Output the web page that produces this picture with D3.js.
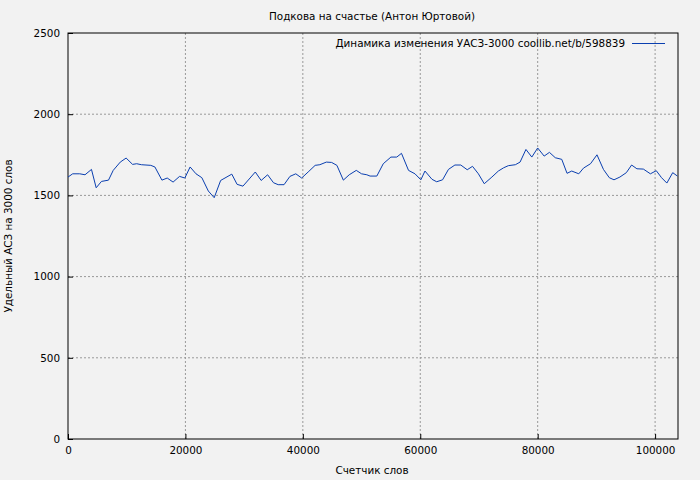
<!DOCTYPE html>
<html><head><meta charset="utf-8">
<script src="https://cdn.jsdelivr.net/npm/d3@7"></script>
<style>body{margin:0;background:#f2f2f2}svg{font-family:"DejaVu Sans",sans-serif;font-size:10.4px}</style>
</head><body><svg id="c" width="700" height="480"></svg>
<script>
// word counter (thousands) and specific ASZ
var words = [0,0.8,2.0,2.9,4.0,4.8,5.7,6.9,7.7,8.9,9.9,11.0,11.7,12.5,14.1,14.8,16.0,16.9,17.9,19.0,19.9,20.8,21.8,22.8,23.9,24.9,26.0,27.9,28.8,29.8,31.9,32.9,34.0,35.0,35.8,36.8,37.8,38.8,39.8,40.9,42.1,42.9,44.0,44.9,45.8,46.9,47.9,49.1,50.0,50.9,
  51.45,52.6,53.7,55.0,56.0,56.8,58.0,59.1,60.1,60.8,62.0,62.8,63.8,64.8,65.9,66.9,68.0,68.9,69.9,70.9,72.2,73.3,74.2,75.0,76.2,77.0,78.0,79.0,80.0,81.1,82.0,83.0,84.1,85.0,85.8,87.0,87.8,89.0,90.1,91.2,92.2,93.0,94.0,95.1,96.0,96.9,98.0,99.2,100.2,101.1,102.0,103.0,103.8];
var values = [1613,1633,1633,1627,1660,1547,1586,1594,1654,1705,1730,1691,1695,1689,1685,1675,1594,1607,1582,1617,1607,1675,1633,1609,1527,1486,1592,1631,1568,1557,1644,1592,1627,1578,1566,1566,1617,1633,1607,1644,1685,1689,1705,1703,1685,1594,1627,1654,1633,1627,
  1619,1619,1695,1736,1736,1759,1654,1633,1596,1650,1599,1584,1596,1660,1687,1687,1658,1679,1633,1572,1613,1650,1670,1683,1689,1705,1783,1736,1792,1742,1765,1732,1722,1636,1650,1633,1668,1695,1750,1660,1609,1596,1613,1640,1687,1664,1662,1633,1652,1609,1576,1640,1619];
var xTicks = [0,20000,40000,60000,80000,100000];
var yTicks = [0,500,1000,1500,2000,2500];

var svg = d3.select("#c");
var L=68,R=678,T=33,B=439;
var x = d3.scaleLinear().domain([0,103900]).range([L,R]);
var y = d3.scaleLinear().domain([0,2500]).range([B,T]);

svg.append("rect").attr("width",700).attr("height",480).attr("fill","#f2f2f2");
var g = svg.append("g");
xTicks.forEach(function(t){ if(t>0) g.append("line").attr("x1",x(t)).attr("x2",x(t)).attr("y1",T).attr("y2",B).attr("stroke","#999").attr("stroke-dasharray","2,2"); });
yTicks.forEach(function(t){ if(t>0&&t<2500) g.append("line").attr("x1",L).attr("x2",R).attr("y1",y(t)).attr("y2",y(t)).attr("stroke","#999").attr("stroke-dasharray","2,2"); });

function style(a){a.select(".domain").remove();a.selectAll("text").attr("font-size",10.4).attr("font-family","DejaVu Sans").attr("fill","#000");}
svg.append("g").attr("transform","translate(0,"+B+")")
  .call(d3.axisBottom(x).tickValues(xTicks).tickSize(-5).tickPadding(8).tickFormat(d3.format("d")))
  .call(style);
svg.append("g").attr("transform","translate("+L+",0)")
  .call(d3.axisLeft(y).tickValues(yTicks).tickSize(-5).tickPadding(8).tickFormat(d3.format("d")))
  .call(style);
svg.append("rect").attr("x",L).attr("y",T).attr("width",R-L).attr("height",B-T).attr("fill","none").attr("stroke","#000");

svg.append("path").datum(d3.zip(words,values))
  .attr("fill","none").attr("stroke","#0a3fb0").attr("stroke-width",1)
  .attr("d",d3.line().x(function(d){return x(d[0]*1000);}).y(function(d){return y(d[1]);}));

svg.append("text").attr("x",372).attr("y",20).attr("text-anchor","middle").text("Подкова на счастье (Антон Юртовой)");
svg.append("text").attr("x",372).attr("y",474).attr("text-anchor","middle").text("Счетчик слов");
svg.append("text").attr("transform","translate(12,236) rotate(-90)").attr("text-anchor","middle").text("Удельный АСЗ на 3000 слов");
svg.append("text").attr("x",625).attr("y",47).attr("text-anchor","end").text("Динамика изменения УАСЗ-3000 coollib.net/b/598839");
svg.append("line").attr("x1",632).attr("x2",665).attr("y1",43.5).attr("y2",43.5).attr("stroke","#0a3fb0");
</script></body></html>
